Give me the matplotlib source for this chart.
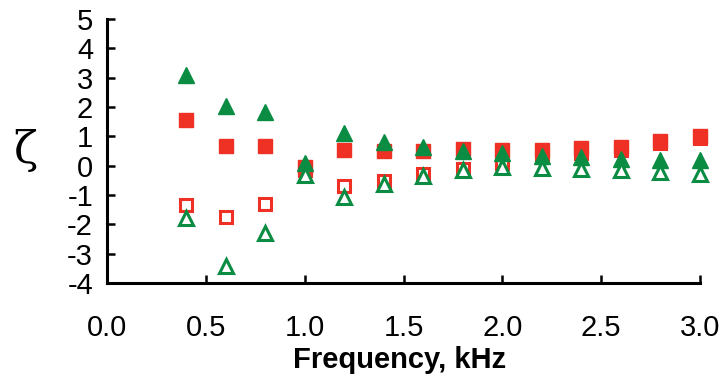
import matplotlib
matplotlib.use("Agg")
from matplotlib import pyplot

# frequency, kHz
freq = [0.4, 0.6, 0.8, 1.0, 1.2, 1.4, 1.6, 1.8, 2.0, 2.2, 2.4, 2.6, 2.8, 3.0]

# zeta values
sq_filled = [1.55, 0.67, 0.67, -0.05, 0.53, 0.5, 0.5, 0.57, 0.53, 0.55, 0.6, 0.64, 0.84, 1.0]
sq_open = [-1.33, -1.75, -1.3, -0.15, -0.69, -0.52, -0.3, -0.13, 0.08, 0.3, 0.43, 0.53, 0.77, 0.94]
tri_filled = [3.09, 2.03, 1.83, 0.09, 1.1, 0.81, 0.63, 0.5, 0.43, 0.33, 0.28, 0.22, 0.19, 0.19]
tri_open = [-1.8, -3.41, -2.3, -0.32, -1.06, -0.64, -0.35, -0.15, -0.03, -0.08, -0.1, -0.15, -0.22, -0.29]

xticks = [0.0, 0.5, 1.0, 1.5, 2.0, 2.5, 3.0]
yticks = [-4, -3, -2, -1, 0, 1, 2, 3, 4, 5]

red = "#ee3124"
green = "#0a8d43"

pyplot.rcParams["font.family"] = ["Liberation Sans", "DejaVu Sans"]
pyplot.rcParams["axes.unicode_minus"] = False

fig = pyplot.figure(figsize=(7.27, 3.85), dpi=100)
ax = fig.add_axes([107 / 727, 102 / 385, 593 / 727, 264 / 385])

ax.plot(freq, sq_open, "s", ms=9, mfc="white", mec=red, mew=2.2, clip_on=False)
ax.plot(freq, sq_filled, "s", ms=10, color=red, mec=red, clip_on=False)
ax.plot(freq, tri_filled, "^", ms=11, color=green, mec=green, clip_on=False)
ax.plot(freq, tri_open, "^", ms=10, mfc="white", mec=green, mew=2.2, clip_on=False)

ax.set_xlim(0, 3.0)
ax.set_ylim(-4, 5)
ax.set_xticks(xticks)
ax.set_xticklabels(["%.1f" % t for t in xticks])
ax.set_yticks(yticks)

for side in ["top", "right"]:
    ax.spines[side].set_visible(False)
for side in ["left", "bottom"]:
    ax.spines[side].set_linewidth(2.2)

ax.tick_params(axis="both", direction="in", length=6, width=1.8, labelsize=21)
ax.tick_params(axis="x", pad=22)
ax.tick_params(axis="y", pad=10)

ax.set_xlabel("Frequency, kHz", fontsize=21, fontweight="bold")
ax.xaxis.set_label_coords(0.494, -0.24)
ax.set_ylabel("ζ", fontsize=32, rotation=0, family=["DejaVu Serif"], va="center", ha="center")
ax.yaxis.set_label_coords(-0.138, 0.504)

pyplot.savefig("out.png", dpi=100)
pyplot.close()
